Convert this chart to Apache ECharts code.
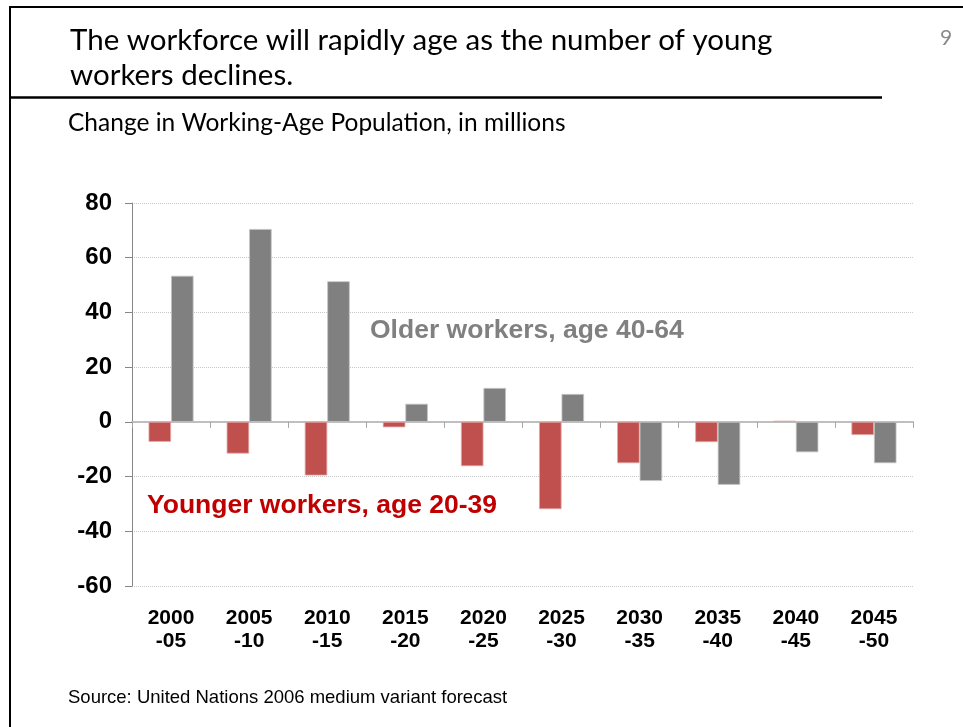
<!DOCTYPE html>
<html>
<head>
<meta charset="utf-8">
<script src="https://cdn.jsdelivr.net/npm/echarts@6/dist/echarts.min.js"></script>
<style>
  html, body { margin: 0; padding: 0; background: #fff; }
  #chart { width: 963px; height: 727px; }
</style>
</head>
<body>
<div id="chart"></div>
<script>
// Five-year periods, 2000-2050
const periods = ['2000\n-05', '2005\n-10', '2010\n-15', '2015\n-20', '2020\n-25',
                 '2025\n-30', '2030\n-35', '2035\n-40', '2040\n-45', '2045\n-50'];
// Change in working-age population, millions
const younger = [-7.3, -11.6, -19.6, -2.0, -16.2, -31.9, -15.1, -7.4, 0.4, -4.8];
const older = [53.4, 70.5, 51.4, 6.6, 12.4, 10.2, -21.6, -23.0, -11.1, -15.1];
// Value axis ticks
const yTicks = [-60, -40, -20, 0, 20, 40, 60, 80];

const titleFont = 'Lato, "Open Sans", sans-serif';
const chartFont = '"Liberation Sans", Arial, sans-serif';

const chart = echarts.init(document.getElementById('chart'), null, { renderer: 'canvas' });

chart.setOption({
  animation: false,
  backgroundColor: '#ffffff',
  textStyle: { fontFamily: chartFont },
  grid: { left: 132, right: 50, top: 203, bottom: 141, containLabel: false },
  xAxis: [
    {
      // zero line with category boundary ticks
      type: 'category',
      data: periods,
      position: 'bottom',
      axisLine: { onZero: true, lineStyle: { color: '#bfbfbf', width: 2 } },
      axisTick: { show: true, length: 6, lineStyle: { color: '#a6a6a6', width: 1 } },
      axisLabel: { show: false },
      splitLine: { show: false }
    },
    {
      // period labels along the bottom of the plot
      type: 'category',
      data: periods,
      position: 'bottom',
      axisLine: { show: false, onZero: false },
      axisTick: { show: false },
      axisLabel: {
        show: true, margin: 21, color: '#000', fontWeight: 'bold',
        fontSize: 21, lineHeight: 23, fontFamily: chartFont
      },
      splitLine: { show: false }
    }
  ],
  yAxis: {
    type: 'value',
    min: yTicks[0],
    max: yTicks[yTicks.length - 1],
    interval: 20,
    axisLine: { show: true, lineStyle: { color: '#868686', width: 1 } },
    axisTick: { show: true, length: 7, lineStyle: { color: '#868686' } },
    axisLabel: {
      margin: 20, color: '#000', fontWeight: 'bold', fontSize: 24, fontFamily: chartFont
    },
    splitLine: { show: true, lineStyle: { color: '#c8c8c8', type: [1, 1], width: 1 } }
  },
  series: [
    {
      name: 'Younger workers, age 20-39',
      type: 'bar',
      data: younger,
      barWidth: 22.5,
      barGap: '0%',
      itemStyle: { color: '#c0504d', borderColor: '#e3a5a3', borderWidth: 0.8 }
    },
    {
      name: 'Older workers, age 40-64',
      type: 'bar',
      data: older,
      barWidth: 22.5,
      barGap: '0%',
      itemStyle: { color: '#808080', borderColor: '#c4c4c4', borderWidth: 0.8 }
    }
  ],
  graphic: [
    // slide frame
    { type: 'line', shape: { x1: 10, y1: 7, x2: 963, y2: 7 }, style: { stroke: '#000', lineWidth: 2 } },
    { type: 'line', shape: { x1: 10, y1: 6, x2: 10, y2: 727 }, style: { stroke: '#000', lineWidth: 2 } },
    { type: 'line', shape: { x1: 10, y1: 97.5, x2: 882, y2: 97.5 }, style: { stroke: '#000', lineWidth: 2.5 } },
    {
      type: 'text', x: 70, y: 58,
      style: {
        text: 'The workforce will rapidly age as the number of young\nworkers declines.',
        font: '29.5px ' + titleFont, fill: '#000', lineHeight: 35, verticalAlign: 'middle'
      }
    },
    {
      type: 'text', x: 940, y: 38,
      style: { text: '9', font: '21px ' + titleFont, fill: '#8a8a8a', verticalAlign: 'middle' }
    },
    {
      type: 'text', x: 68, y: 123,
      style: { text: 'Change in Working-Age Population, in millions', font: '24.5px ' + titleFont, fill: '#000', verticalAlign: 'middle' }
    },
    {
      type: 'text', x: 370, y: 331,
      style: { text: 'Older workers, age 40-64', font: 'bold 26.5px ' + chartFont, fill: '#808080', verticalAlign: 'middle' }
    },
    {
      type: 'text', x: 147, y: 506,
      style: { text: 'Younger workers, age 20-39', font: 'bold 26.5px ' + chartFont, fill: '#c00000', verticalAlign: 'middle' }
    },
    {
      type: 'text', x: 68, y: 698,
      style: { text: 'Source: United Nations 2006 medium variant forecast', font: '18.5px ' + chartFont, fill: '#000', verticalAlign: 'middle' }
    }
  ]
});
</script>
</body>
</html>
